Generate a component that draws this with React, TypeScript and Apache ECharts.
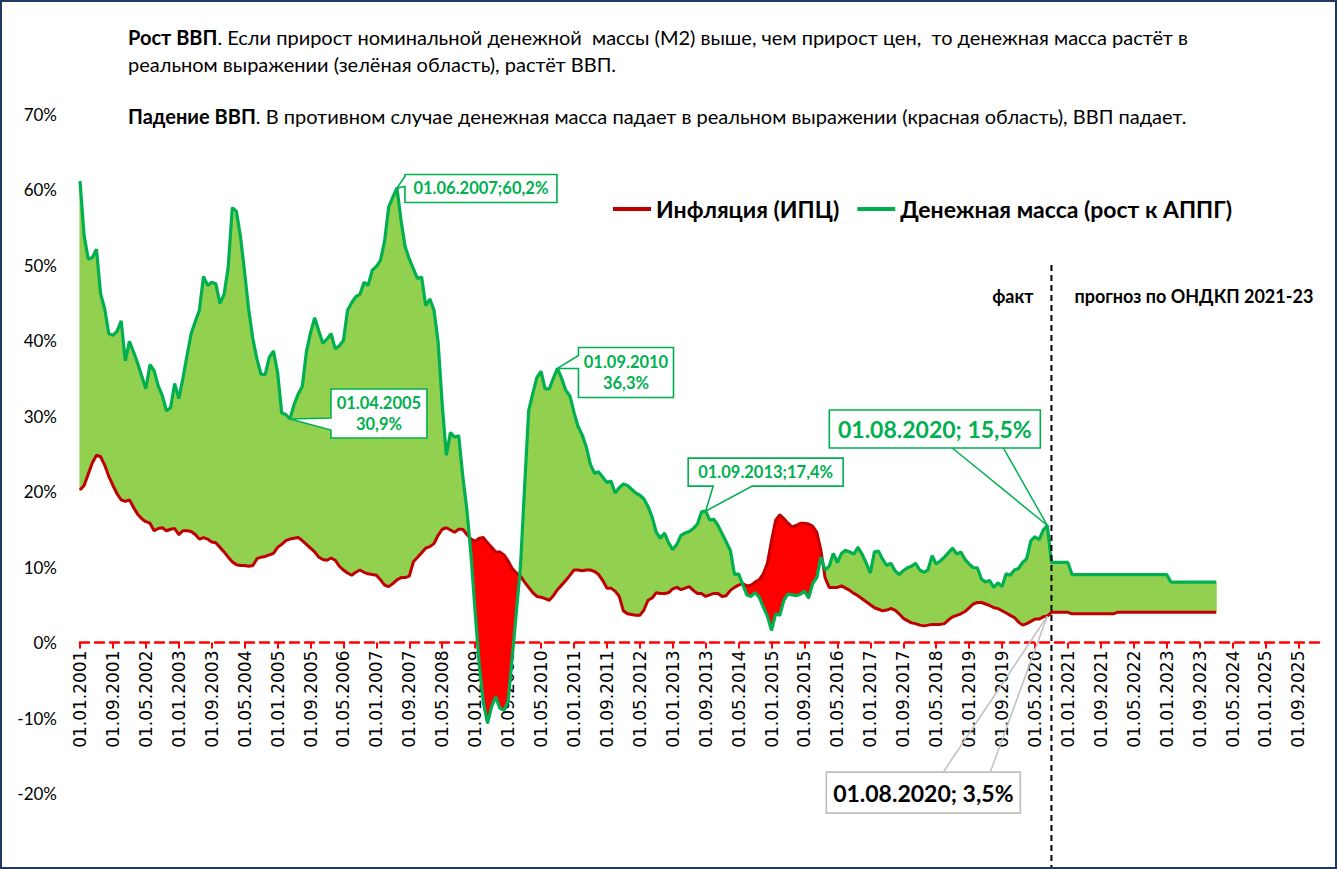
import React, { useEffect, useRef } from 'react';
import * as echarts from 'echarts';

// ---------- DATA ----------
const START_YEAR = 2001;
const CATEGORY_COUNT = 302; // 01.01.2001 .. 01.02.2026 (monthly)

// Денежная масса (рост к АППГ), %, 01.01.2001 .. 01.08.2020
const moneyFact = [
  61.1, 53.9, 50.8, 51.0, 52.1, 46.2, 44.2, 40.9, 40.7, 41.2,
  42.6, 37.3, 39.9, 38.5, 37.0, 35.3, 33.6, 36.8, 36.0, 34.0,
  32.7, 30.7, 31.1, 34.3, 32.3, 35.0, 38.0, 40.9, 42.5, 44.0,
  48.5, 47.3, 47.7, 47.5, 44.9, 46.1, 49.7, 57.6, 57.1, 53.7,
  49.0, 44.0, 40.2, 37.5, 35.5, 35.5, 37.8, 38.6, 35.8, 30.4,
  30.2, 29.6, 31.5, 32.9, 33.9, 38.5, 41.0, 43.0, 41.3, 39.6,
  40.2, 40.9, 38.9, 39.3, 40.0, 44.0, 45.0, 45.8, 46.1, 47.7,
  47.3, 49.3, 49.8, 50.6, 53.2, 57.7, 59.0, 60.2, 55.9, 52.4,
  50.8, 49.5, 48.2, 48.4, 44.6, 45.5, 44.0, 39.8, 31.5, 24.8,
  27.8, 27.2, 27.4, 22.0, 17.5, 11.5, 4.0, -3.0, -8.0, -10.7,
  -8.5, -7.2, -8.7, -9.0, -7.8, -2.0, 4.0, 10.0, 20.5, 30.7,
  33.0, 35.1, 35.9, 33.6, 33.6, 35.0, 36.3, 35.0, 33.4, 32.7,
  30.5, 28.6, 27.5, 25.9, 23.6, 22.4, 22.6, 21.9, 21.2, 21.4,
  19.8, 20.5, 21.0, 20.8, 20.3, 19.8, 19.5, 19.0, 18.0, 16.6,
  14.6, 13.8, 14.5, 13.2, 12.3, 13.0, 14.2, 14.5, 14.7, 15.1,
  15.7, 17.3, 17.4, 16.2, 16.3, 15.5, 14.4, 13.3, 12.2, 9.0,
  9.1, 7.7, 6.3, 6.1, 6.6, 6.0, 4.7, 3.5, 1.6, 3.8,
  3.6, 5.6, 6.4, 6.3, 6.2, 6.4, 6.8, 5.9, 7.8, 8.6,
  11.3, 9.6, 10.1, 11.8, 10.6, 11.8, 12.2, 12.0, 11.7, 12.6,
  11.7, 10.5, 9.2, 12.0, 12.1, 11.0, 10.2, 10.5, 9.5, 9.0,
  9.5, 9.9, 10.1, 10.5, 9.6, 9.3, 9.6, 11.5, 10.4, 10.8,
  11.3, 11.9, 12.5, 11.7, 12.0, 11.0, 10.4, 9.9, 9.9, 8.4,
  8.0, 8.2, 7.3, 7.9, 7.4, 9.1, 8.9, 9.6, 9.8, 10.6,
  11.1, 13.5, 14.0, 13.6, 14.9, 15.5,
];

// прогноз по ОНДКП 2021-23, 01.09.2020 .. 01.01.2024
const moneyForecast = [
  10.6, 10.6, 10.6, 10.6, 10.6,
  9.0, 9.0, 9.0, 9.0, 9.0, 9.0, 9.0, 9.0, 9.0, 9.0, 9.0, 9.0,
  9.0, 9.0, 9.0, 9.0, 9.0, 9.0, 9.0, 9.0, 9.0, 9.0, 9.0, 9.0,
  8.0, 8.0, 8.0, 8.0, 8.0, 8.0, 8.0, 8.0, 8.0, 8.0, 8.0, 8.0,
];

// Инфляция (ИПЦ), %, 01.01.2001 .. 01.08.2020
const inflFact = [
  20.2, 20.8, 22.3, 23.8, 24.8, 24.6, 23.5, 22.0, 20.8, 19.7,
  18.9, 18.7, 18.9, 17.9, 17.0, 16.4, 16.0, 15.8, 14.8, 15.1,
  15.2, 14.8, 15.0, 15.1, 14.3, 14.8, 14.8, 14.7, 14.3, 13.7,
  13.9, 13.7, 13.3, 13.2, 12.6, 12.0, 11.3, 10.7, 10.3, 10.2,
  10.2, 10.1, 10.2, 11.1, 11.3, 11.4, 11.6, 11.8, 12.6, 13.0,
  13.5, 13.7, 13.8, 13.9, 13.5, 13.0, 12.5, 12.0, 11.3, 11.0,
  10.9, 11.2, 10.9, 10.1, 9.6, 9.2, 8.9, 9.3, 9.6, 9.3,
  9.1, 9.0, 8.9, 8.3, 7.6, 7.4, 7.8, 8.3, 8.6, 8.6,
  8.8, 10.7, 11.3, 11.9, 12.5, 12.7, 13.1, 14.2, 15.0, 15.2,
  14.9, 14.6, 15.0, 15.0, 14.3, 13.7, 13.4, 13.8, 13.9, 13.2,
  12.6, 12.0, 12.0, 11.6, 10.8, 9.8, 9.2, 8.8, 8.0, 7.3,
  6.6, 6.1, 6.0, 5.8, 5.6, 6.2, 7.0, 7.6, 8.2, 8.9,
  9.6, 9.6, 9.5, 9.6, 9.6, 9.4, 9.0, 8.2, 7.2, 7.2,
  6.8, 6.1, 4.2, 3.8, 3.7, 3.6, 3.6, 4.3, 5.6, 5.9,
  6.6, 6.5, 6.5, 6.6, 7.1, 7.3, 7.0, 7.2, 7.4, 6.9,
  6.5, 6.5, 6.1, 6.3, 6.5, 6.5, 6.1, 6.2, 6.9, 7.3,
  7.6, 7.8, 7.5, 7.6, 8.0, 8.3, 9.1, 10.5, 13.5, 16.2,
  16.9, 16.4, 15.8, 15.3, 15.5, 15.8, 15.8, 15.7, 15.4, 14.6,
  12.2, 8.6, 7.3, 7.3, 7.3, 7.5, 7.2, 6.9, 6.5, 6.2,
  5.8, 5.4, 5.0, 4.6, 4.4, 4.2, 4.3, 4.5, 4.3, 3.8,
  3.2, 2.9, 2.6, 2.5, 2.3, 2.2, 2.3, 2.4, 2.4, 2.4,
  2.5, 3.0, 3.4, 3.6, 3.8, 4.1, 4.6, 5.1, 5.3, 5.3,
  5.1, 4.9, 4.6, 4.5, 4.2, 3.9, 3.6, 3.3, 2.7, 2.3,
  2.5, 2.8, 3.1, 3.1, 3.4, 3.5,
];

const inflForecast = [
  4.0, 4.0, 4.0, 4.0, 4.0,
  3.8, 3.8, 3.8, 3.8, 3.8, 3.8, 3.8, 3.8, 3.8, 3.8, 3.8,
  4.0, 4.0, 4.0, 4.0, 4.0, 4.0, 4.0, 4.0, 4.0, 4.0, 4.0, 4.0, 4.0,
  4.0, 4.0, 4.0, 4.0, 4.0, 4.0, 4.0, 4.0, 4.0, 4.0, 4.0, 4.0,
];

const yTickValues = [-30, -20, -10, 0, 10, 20, 30, 40, 50, 60, 70];

const SERIES_INFL = 'Инфляция (ИПЦ)';
const SERIES_MONEY = 'Денежная масса (рост к АППГ)';

const headerLines = [
  { bold: 'Рост ВВП', rest: '. Если прирост номинальной денежной  массы (М2) выше, чем прирост цен,  то денежная масса растёт в' },
  { bold: '', rest: 'реальном выражении (зелёная область), растёт ВВП.' },
  { bold: 'Падение ВВП', rest: '. В противном случае денежная масса падает в реальном выражении (красная область), ВВП падает.' },
];

const greenNotes = [
  { idx: 77, lines: ['01.06.2007;60,2%'] },
  { idx: 51, lines: ['01.04.2005', '30,9%'] },
  { idx: 116, lines: ['01.09.2010', '36,3%'] },
  { idx: 152, lines: ['01.09.2013;17,4%'] },
];
const bigGreenNote = { idx: 235, text: '01.08.2020; 15,5%' };
const bigGrayNote = { idx: 235, text: '01.08.2020; 3,5%' };
const factLabel = 'факт';
const forecastLabel = 'прогноз по ОНДКП 2021-23';

// ---------- BUILD ----------
const categories: string[] = [];
for (let k = 0; k < CATEGORY_COUNT; k++) {
  const y = START_YEAR + Math.floor(k / 12);
  const m = (k % 12) + 1;
  categories.push(`01.${String(m).padStart(2, '0')}.${y}`);
}
const money = [...moneyFact, ...moneyForecast];
const infl = [...inflFact, ...inflForecast];

const GREEN = '#00B050';
const GREEN_FILL = '#92D050';
const RED = '#C00000';
const RED_FILL = '#FF0000';
const CAL = 'Lato, "Noto Sans", sans-serif';

const GRID_TOP = 114;
const GRID_BOTTOM = 0;
const PLOT_H = 869 - GRID_TOP - GRID_BOTTOM;

const fillData: number[][] = [];
for (let i = 0; i < money.length - 1; i++) {
  fillData.push([i, money[i], money[i + 1], infl[i], infl[i + 1]]);
}

export default function App() {
  const ref = useRef<HTMLDivElement>(null);

  useEffect(() => {
    if (!ref.current) return;
    const chart = echarts.init(ref.current, undefined, { renderer: 'svg' });

    const yMin = yTickValues[0];
    const yMax = yTickValues[yTickValues.length - 1];
    // move the category axis up from the grid bottom to the zero line
    const zeroOffset = -((0 - yMin) / (yMax - yMin)) * PLOT_H;

    const option: any = {
      animation: false,
      backgroundColor: '#ffffff',
      grid: {
        left: 80, right: 18, top: GRID_TOP, bottom: GRID_BOTTOM,
        containLabel: false, outerBoundsMode: 'none',
      },
      legend: {
        data: [SERIES_INFL, SERIES_MONEY],
        left: 613,
        top: 195,
        padding: 0,
        icon: 'rect',
        itemWidth: 38,
        itemHeight: 4,
        itemGap: 18,
        selectedMode: false,
        textStyle: { fontFamily: CAL, fontSize: 23, fontWeight: 'bold', color: '#000', lineHeight: 28 },
      },
      xAxis: {
        type: 'category',
        data: categories,
        boundaryGap: false,
        position: 'bottom',
        offset: zeroOffset,
        axisLine: { onZero: false, lineStyle: { color: '#FF0000', width: 2.5, type: [9, 6] } },
        axisTick: { interval: 7, length: 6, lineStyle: { color: '#FF0000', width: 2 } },
        axisLabel: {
          interval: 7,
          rotate: 90,
          margin: 8,
          fontFamily: '"DejaVu Sans", sans-serif',
          fontSize: 17,
          color: '#000',
        },
        splitLine: { show: false },
      },
      yAxis: {
        type: 'value',
        min: yMin,
        max: yMax,
        interval: 10,
        axisLine: { show: false },
        axisTick: { show: false },
        splitLine: { show: false },
        axisLabel: {
          formatter: (v: number) => (v === yMin ? '' : `${v}%`),
          margin: 23,
          fontFamily: CAL,
          fontSize: 17,
          color: '#000',
        },
      },
      series: [
        {
          type: 'custom',
          name: 'fill',
          silent: true,
          z: 1,
          encode: { x: 0, y: [1, 2, 3, 4] },
          data: fillData,
          renderItem: (params: any, api: any) => {
            const i = api.value(0);
            const m0 = api.value(1), m1 = api.value(2), r0 = api.value(3), r1 = api.value(4);
            const d0 = m0 - r0, d1 = m1 - r1;
            const pa = api.coord([i, 0]);
            const pb = api.coord([i + 1, 0]);
            const X0 = pa[0], X1 = pb[0];
            const Y = (v: number) => api.coord([i, v])[1];
            const st = (c: string) => ({ fill: c, stroke: c, lineWidth: 1.2 });
            if (d0 * d1 >= 0) {
              const c = d0 + d1 >= 0 ? GREEN_FILL : RED_FILL;
              return {
                type: 'polygon',
                shape: { points: [[X0, Y(m0)], [X1, Y(m1)], [X1, Y(r1)], [X0, Y(r0)]] },
                style: st(c),
              };
            }
            const t = d0 / (d0 - d1);
            const xc = X0 + t * (X1 - X0);
            const yc = Y(r0 + t * (r1 - r0));
            const c0 = d0 > 0 ? GREEN_FILL : RED_FILL;
            const c1 = d1 > 0 ? GREEN_FILL : RED_FILL;
            return {
              type: 'group',
              children: [
                { type: 'polygon', shape: { points: [[X0, Y(m0)], [xc, yc], [X0, Y(r0)]] }, style: st(c0) },
                { type: 'polygon', shape: { points: [[xc, yc], [X1, Y(m1)], [X1, Y(r1)]] }, style: st(c1) },
              ],
            };
          },
        },
        {
          type: 'line',
          name: SERIES_INFL,
          data: infl,
          symbol: 'none',
          z: 3,
          color: RED,
          itemStyle: { color: RED },
          lineStyle: { color: RED, width: 3 },
        },
        {
          type: 'line',
          name: SERIES_MONEY,
          data: money,
          symbol: 'none',
          z: 4,
          color: GREEN,
          itemStyle: { color: GREEN },
          lineStyle: { color: GREEN, width: 3.2 },
        },
      ],
    };
    chart.setOption(option);

    const px = (i: number, v: number): number[] =>
      chart.convertToPixel({ xAxisIndex: 0, yAxisIndex: 0 }, [i, v]) as number[];

    const g: any[] = [];

    // header text
    const headerY = [37, 64, 116];
    headerLines.forEach((ln, k) => {
      const txt = (ln.bold ? `{b|${ln.bold}}` : '') + `{n|${ln.rest}}`;
      g.push({
        type: 'text',
        z: 100,
        style: {
          x: 128,
          y: headerY[k],
          text: txt,
          verticalAlign: 'middle',
          align: 'left',
          fontFamily: CAL,
          fontSize: 20,
          fill: '#000',
          rich: {
            b: { fontFamily: CAL, fontSize: 20, fontWeight: 'bold', fill: '#000' },
            n: { fontFamily: CAL, fontSize: 20, fontWeight: 'normal', fill: '#000' },
          },
        },
      });
    });

    // small green callouts
    const cfg: Record<number, any> = {
      77: { dx: 8, dy: -13.5, w: 152, h: 28, side: 'left', w1: 2, w2: 12 },
      51: { dx: 41, dy: -30, w: 96, h: 49, side: 'left', w1: 29, w2: 41 },
      116: { dx: 21, dy: -21, w: 95, h: 50, side: 'left', w1: 8, w2: 21 },
      152: { dx: -17.5, dy: -53, w: 155, h: 28, side: 'bottom', w1: 25, w2: 64 },
    };
    greenNotes.forEach((n) => {
      const c = cfg[n.idx];
      const P = px(n.idx, money[n.idx]);
      const bx = P[0] + c.dx, by = P[1] + c.dy;
      let pts: number[][];
      if (c.side === 'left') {
        pts = [[bx, by], [bx + c.w, by], [bx + c.w, by + c.h], [bx, by + c.h], [bx, by + c.w2], [P[0], P[1]], [bx, by + c.w1]];
      } else {
        pts = [[bx, by], [bx + c.w, by], [bx + c.w, by + c.h], [bx + c.w2, by + c.h], [P[0], P[1]], [bx + c.w1, by + c.h], [bx, by + c.h]];
      }
      g.push({ type: 'polygon', z: 90, shape: { points: pts }, style: { fill: '#fff', stroke: GREEN, lineWidth: 1.6 } });
      const lh = 21;
      const cy = by + c.h / 2;
      n.lines.forEach((t, k) => {
        g.push({
          type: 'text',
          z: 91,
          style: {
            x: bx + c.w / 2,
            y: cy + (k - (n.lines.length - 1) / 2) * lh,
            text: t,
            align: 'center',
            verticalAlign: 'middle',
            fontFamily: CAL,
            fontSize: 16.5,
            fontWeight: 'bold',
            fill: GREEN,
          },
        });
      });
    });

    // big green callout
    {
      const P = px(bigGreenNote.idx, money[bigGreenNote.idx]);
      const bx = P[0] - 218, by = P[1] - 115.5, w = 211, h = 38;
      g.push({ type: 'line', z: 90, shape: { x1: bx + 123, y1: by + h, x2: P[0], y2: P[1] }, style: { stroke: GREEN, lineWidth: 1.5 } });
      g.push({ type: 'line', z: 90, shape: { x1: bx + 174, y1: by + h, x2: P[0], y2: P[1] }, style: { stroke: GREEN, lineWidth: 1.5 } });
      g.push({ type: 'rect', z: 90, shape: { x: bx, y: by, width: w, height: h }, style: { fill: '#fff', stroke: GREEN, lineWidth: 1.6 } });
      g.push({
        type: 'text', z: 91,
        style: { x: bx + w / 2, y: by + h / 2, text: bigGreenNote.text, align: 'center', verticalAlign: 'middle', fontFamily: CAL, fontSize: 23, fontWeight: 'bold', fill: GREEN },
      });
    }
    // big gray callout
    {
      const P = px(bigGrayNote.idx, infl[bigGrayNote.idx]);
      const bx = P[0] - 221, by = P[1] + 156, w = 194, h = 41;
      g.push({ type: 'line', z: 90, shape: { x1: bx + 117, y1: by, x2: P[0], y2: P[1] }, style: { stroke: '#BFBFBF', lineWidth: 1.5 } });
      g.push({ type: 'line', z: 90, shape: { x1: bx + 164, y1: by, x2: P[0], y2: P[1] }, style: { stroke: '#BFBFBF', lineWidth: 1.5 } });
      g.push({ type: 'rect', z: 90, shape: { x: bx, y: by, width: w, height: h }, style: { fill: '#fff', stroke: '#BFBFBF', lineWidth: 1.6 } });
      g.push({
        type: 'text', z: 91,
        style: { x: bx + w / 2, y: by + h / 2, text: bigGrayNote.text, align: 'center', verticalAlign: 'middle', fontFamily: CAL, fontSize: 23, fontWeight: 'bold', fill: '#000' },
      });
    }

    // fact / forecast divider
    {
      const top = px(235.5, 50);
      const bot = px(235.5, yMin);
      g.push({ type: 'line', z: 95, shape: { x1: top[0], y1: top[1], x2: bot[0], y2: bot[1] }, style: { stroke: '#000', lineWidth: 2, lineDash: [6, 4] } });
      g.push({ type: 'text', z: 95, style: { x: top[0] - 18, y: 296, text: factLabel, align: 'right', verticalAlign: 'middle', fontFamily: CAL, fontSize: 18, fontWeight: 'bold', fill: '#000' } });
      g.push({ type: 'text', z: 95, style: { x: top[0] + 23, y: 296, text: forecastLabel, align: 'left', verticalAlign: 'middle', fontFamily: CAL, fontSize: 18, fontWeight: 'bold', fill: '#000' } });
    }

    chart.setOption({ graphic: g });

    return () => chart.dispose();
  }, []);

  return (
    <div style={{ position: 'fixed', left: 0, top: 0, width: 1337, height: 869, background: '#fff' }}>
      <div ref={ref} style={{ position: 'absolute', left: 0, top: 0, width: 1337, height: 869 }} />
      <div
        style={{
          position: 'absolute', left: 0, top: 0, width: 1337, height: 869,
          boxSizing: 'border-box', border: '2px solid #1F3864', pointerEvents: 'none',
        }}
      />
    </div>
  );
}
